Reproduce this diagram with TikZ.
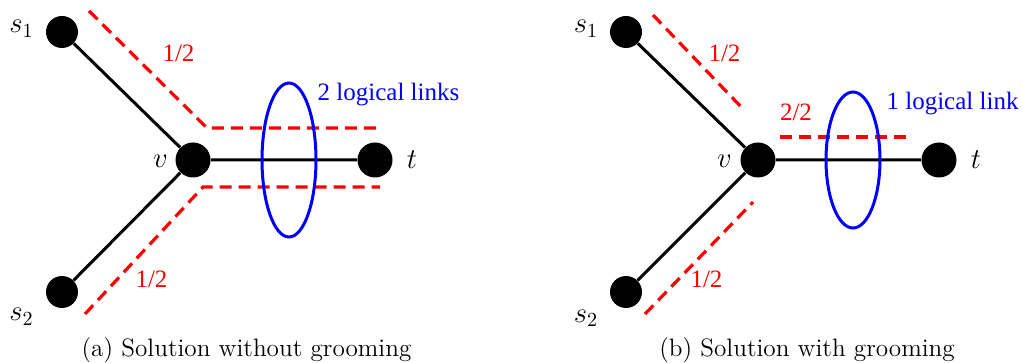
\documentclass[tikz,border=0pt]{standalone}
\usepackage{fontspec}
\usepackage{tikz}
\newfontfamily\grlabelfont{Liberation Serif}
\tikzset{
    grvertex/.style={circle, fill=black, inner sep=0pt, minimum size=17.5pt},
    grsource/.style={grvertex, minimum size=16pt},
    grlink/.style={line width=1.5pt},
    grpath/.style={red, line width=1.6pt, dash pattern=on 6pt off 3.5pt},
    grlogical/.style={blue, line width=1.5pt},
    grname/.style={anchor=base, inner sep=0pt, font=\Large},
    grload/.style={anchor=base, inner sep=0pt, text=red, font=\grlabelfont\fontsize{12.5}{15}\selectfont},
    grcount/.style={grload, text=blue},
    grcaption/.style={anchor=base, inner sep=0pt, font=\fontsize{12.6}{15}\selectfont}
}

\begin{document}
\begin{tikzpicture}[x=0.5pt, y=-0.5pt]
  \useasboundingbox (0,0) rectangle (1022,363);
  \node[grsource] (as1) at (62,32)   {};
  \node[grvertex] (av)  at (193,160) {};
  \node[grvertex] (at)  at (375,160) {};
  \node[grsource] (as2) at (62,292)  {};
  \draw[grlink] (as1) -- (av) -- (at);
  \draw[grlink] (as2) -- (av);
  \coordinate (au1) at (89,11);
  \coordinate (au2) at (207,128);
  \coordinate (au3) at (377,128);
  \coordinate (al1) at (85,314);
  \coordinate (al2) at (203,187);
  \coordinate (al3) at (380,187);
  \draw[grpath] (au1) -- (au2) -- (au3);
  \draw[grpath] (al1) -- (al2) -- (al3);
  \draw[grlogical] (289,160) ellipse [x radius=13.5pt, y radius=38.5pt];
  \node[grname] (las1) at (21.5,33)  {$s_1$};
  \node[grname] (las2) at (21.5,321) {$s_2$};
  \node[grname] (lav)  at (160.5,168) {$v$};
  \node[grname] (lat)  at (412,169)  {$t$};
  \node[grload] (lau) at (178.5,62) {1/2};
  \node[grload] (lal) at (151.5,287) {1/2};
  \node[grcount] (lag) at (388.5,101) {2 logical links};
  \node[grcaption] (capa) at (246.5,356) {(a) Solution without grooming};

  \node[grsource] (bs1) at (626,32)  {};
  \node[grvertex] (bv)  at (758,160) {};
  \node[grvertex] (bt)  at (939,160) {};
  \node[grsource] (bs2) at (626,292) {};
  \draw[grlink] (bs1) -- (bv) -- (bt);
  \draw[grlink] (bs2) -- (bv);
  \coordinate (bu1) at (653,15);
  \coordinate (bu2) at (745,111);
  \coordinate (bm1) at (780,137);
  \coordinate (bm2) at (913,137);
  \coordinate (bl1) at (645,314);
  \coordinate (bl2) at (753,202);
  \draw[grpath] (bu1) -- (bu2);
  \draw[grpath] (bm1) -- (bm2);
  \draw[grpath] (bl1) -- (bl2);
  \draw[grlogical] (853,160) ellipse [x radius=13.5pt, y radius=34pt];
  \node[grname] (lbs1) at (586,33)  {$s_1$};
  \node[grname] (lbs2) at (586,322) {$s_2$};
  \node[grname] (lbv)  at (724.5,168) {$v$};
  \node[grname] (lbt)  at (976,169) {$t$};
  \node[grload] (lbu) at (724.5,62) {1/2};
  \node[grload] (lbm) at (796,121) {2/2};
  \node[grload] (lbl) at (706.5,287) {1/2};
  \node[grcount] (lbg) at (952.5,110) {1 logical link};
  \node[grcaption] (capb) at (807,356) {(b) Solution with grooming};
\end{tikzpicture}
\end{document}
